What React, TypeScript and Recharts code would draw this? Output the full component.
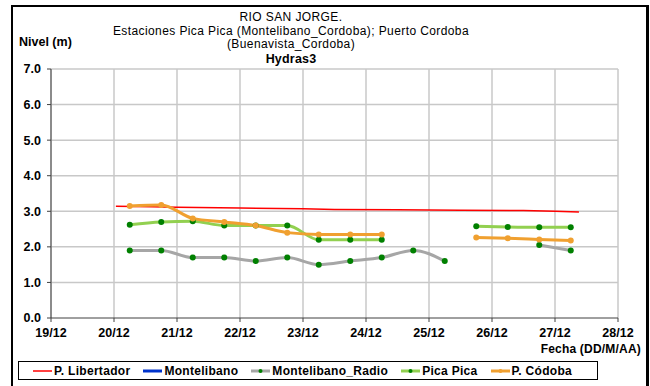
import { LineChart, Line, XAxis, YAxis, CartesianGrid } from "recharts";

// Readings every 12 h (06:00 / 18:00), day of December as a decimal
const times = [20.25, 20.75, 21.25, 21.75, 22.25, 22.75, 23.25, 23.75, 24.25, 24.75, 25.25, 25.75, 26.25, 26.75, 27.25];
const radio = [1.9, 1.9, 1.7, 1.7, 1.6, 1.7, 1.5, 1.6, 1.7, 1.9, 1.6, null, null, 2.05, 1.9];
const picaPica = [2.62, 2.7, 2.72, 2.6, 2.6, 2.6, 2.2, 2.2, 2.2, null, null, 2.58, 2.56, 2.55, 2.55];
const cordoba = [3.15, 3.18, 2.8, 2.7, 2.6, 2.4, 2.35, 2.35, 2.35, null, null, 2.26, 2.24, 2.21, 2.18];
const montelibano = times.map(() => null);

// P. Libertador comes from a separate, denser record
const libertadorTimes = [20.03, 20.6, 21.0, 22.0, 23.0, 23.5, 24.5, 25.5, 26.5, 27.0, 27.38];
const libertador = [3.14, 3.13, 3.11, 3.09, 3.07, 3.05, 3.04, 3.03, 3.02, 3.0, 2.98];

const dayTicks = [19, 20, 21, 22, 23, 24, 25, 26, 27, 28];
const levelTicks = [0, 1, 2, 3, 4, 5, 6, 7];
const gridLevels = [0.5, 1, 1.5, 2, 2.5, 3, 3.5, 4, 4.5, 5, 5.5, 6, 6.5, 7];

const series = [
  { key: "libertador", name: "P. Libertador", color: "#FF0000", width: 1.5, dot: null },
  { key: "montelibano", name: "Montelibano", color: "#0033CC", width: 3, dot: null },
  { key: "radio", name: "Montelibano_Radio", color: "#A6A6A6", width: 3, dot: "#008000" },
  { key: "picaPica", name: "Pica Pica", color: "#92D050", width: 3, dot: "#008000" },
  { key: "cordoba", name: "P. Códoba", color: "#F0A030", width: 3, dot: "#F0A030" },
];

const data = times.map((t, i) => ({
  t,
  montelibano: montelibano[i],
  radio: radio[i],
  picaPica: picaPica[i],
  cordoba: cordoba[i],
}));
const libertadorData = libertadorTimes.map((t, i) => ({ t, libertador: libertador[i] }));

const font = "'Liberation Sans', Arial, sans-serif";
const tickStyle = { fontSize: 12.5, fontWeight: 700, fill: "#000", fontFamily: font };

function LegendBox() {
  return (
    <div
      style={{
        position: "absolute",
        left: 18,
        top: 361,
        width: 580,
        height: 19,
        border: "1px solid #000",
        display: "flex",
        alignItems: "center",
        paddingLeft: 14,
        boxSizing: "border-box",
        fontFamily: font,
        fontSize: 12,
        letterSpacing: 0.3,
        fontWeight: 700,
        gap: 13,
      }}
    >
      {series.map((s) => (
        <div key={s.key} style={{ display: "flex", alignItems: "center" }}>
          <svg width={19} height={8} style={{ marginRight: 2 }}>
            <line x1={0} y1={4} x2={19} y2={4} stroke={s.color} strokeWidth={s.width} />
            {s.dot && <circle cx={9.5} cy={4} r={2} fill={s.dot} />}
          </svg>
          <span>{s.name}</span>
        </div>
      ))}
    </div>
  );
}

export default function App() {
  return (
    <div style={{ position: "absolute", left: 0, top: 0, width: 650, height: 386, background: "#fff", fontFamily: font, overflow: "hidden" }}>
      {/* outer frame, open at the bottom */}
      <div
        style={{
          position: "absolute",
          left: 11,
          top: 5,
          width: 633,
          height: 400,
          borderLeft: "2px solid #000",
          borderTop: "2px solid #000",
          borderRight: "3px solid #000",
        }}
      />
      <div style={{ position: "absolute", left: 0, width: 582, top: 11, textAlign: "center", fontSize: 12, letterSpacing: 0.4, lineHeight: "13.5px" }}>
        <div>RIO SAN JORGE.</div>
        <div>Estaciones Pica Pica (Montelibano_Cordoba); Puerto Cordoba</div>
        <div>(Buenavista_Cordoba)</div>
        <div style={{ fontWeight: 700, fontSize: 12.5, letterSpacing: 0.2, lineHeight: "15px" }}>Hydras3</div>
      </div>
      <div style={{ position: "absolute", left: 19, top: 35, fontSize: 12.5, fontWeight: 700 }}>Nivel (m)</div>
      <div style={{ position: "absolute", right: 9, top: 342, fontSize: 12, letterSpacing: 0.2, fontWeight: 700 }}>Fecha (DD/M/AA)</div>

      <LineChart width={650} height={386} data={data} margin={{ top: 69, right: 32, bottom: 38, left: 0 }} style={{ position: "absolute", left: 0, top: 0 }}>
        <CartesianGrid stroke="#C8C8C8" strokeWidth={1.5} horizontalValues={gridLevels} verticalValues={dayTicks} />
        <XAxis
          type="number"
          dataKey="t"
          domain={[19, 28]}
          ticks={dayTicks}
          tickFormatter={(d) => `${d}/12`}
          tick={tickStyle}
          tickSize={4}
          tickMargin={6}
          height={30}
          stroke="#404040"
          allowDuplicatedCategory={false}
        />
        <YAxis
          type="number"
          domain={[0, 7]}
          ticks={levelTicks}
          tickFormatter={(v) => v.toFixed(1)}
          tick={tickStyle}
          tickSize={4}
          tickMargin={6}
          width={51}
          stroke="#404040"
        />
        <Line
          data={libertadorData}
          dataKey="libertador"
          type="linear"
          stroke="#FF0000"
          strokeWidth={1.5}
          dot={false}
          isAnimationActive={false}
        />
        <Line dataKey="montelibano" stroke="#0033CC" strokeWidth={3} dot={false} isAnimationActive={false} />
        <Line
          dataKey="radio"
          type="monotone"
          stroke="#A6A6A6"
          strokeWidth={3}
          dot={{ r: 3, fill: "#008000", stroke: "#008000", strokeWidth: 0 }}
          isAnimationActive={false}
        />
        <Line
          dataKey="picaPica"
          type="monotone"
          stroke="#92D050"
          strokeWidth={3}
          dot={{ r: 3, fill: "#008000", stroke: "#008000", strokeWidth: 0 }}
          isAnimationActive={false}
        />
        <Line
          dataKey="cordoba"
          type="monotone"
          stroke="#F0A030"
          strokeWidth={3}
          dot={{ r: 3, fill: "#F0A030", stroke: "#F0A030", strokeWidth: 0 }}
          isAnimationActive={false}
        />
      </LineChart>
      <LegendBox />
    </div>
  );
}
